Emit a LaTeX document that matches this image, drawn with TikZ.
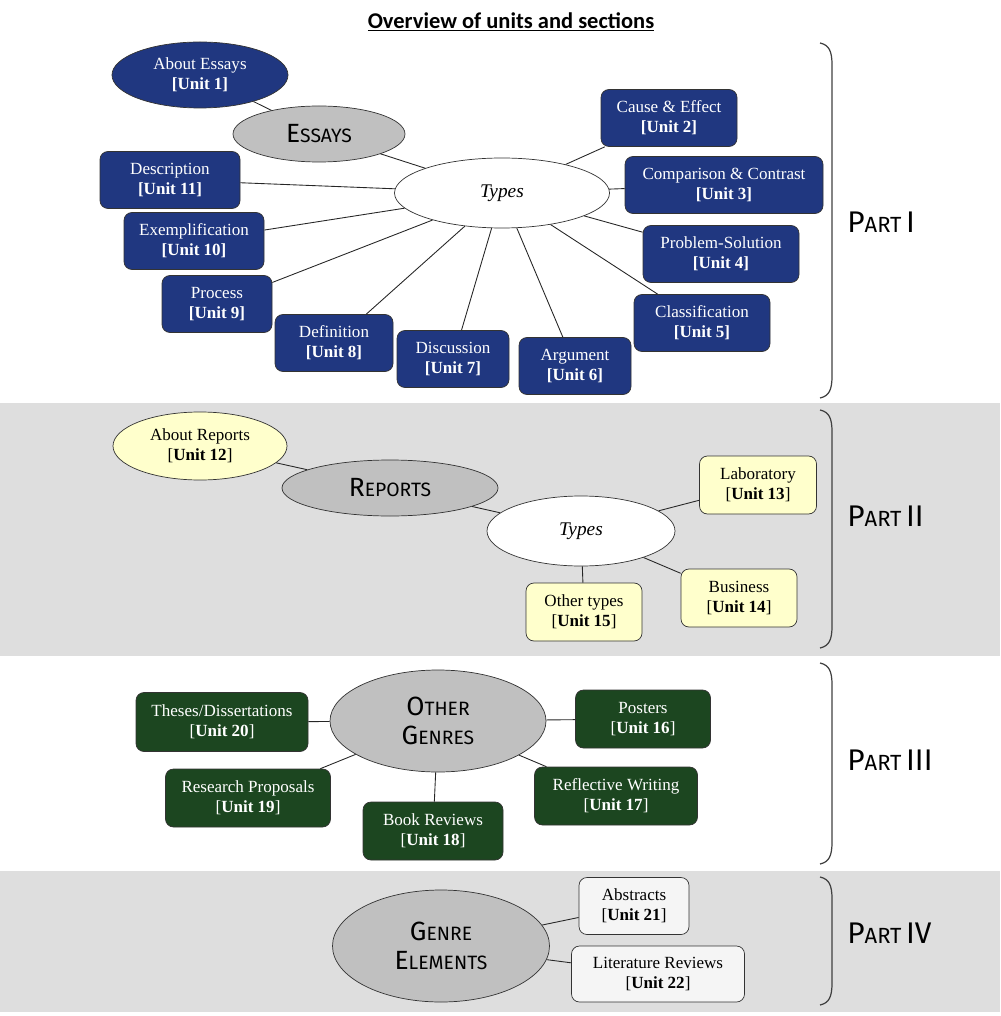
\documentclass[tikz,border=0pt]{standalone}
\usepackage{fontspec}
\setmainfont{Liberation Serif}
\newfontfamily\headfont{Fira Sans}
\newfontfamily\titlefont{Carlito}
\usetikzlibrary{shapes.geometric}

\definecolor{essayblue}{RGB}{32,55,128}
\definecolor{genregreen}{RGB}{28,70,32}
\definecolor{reportyellow}{RGB}{255,255,204}
\definecolor{bandgray}{RGB}{222,222,222}
\definecolor{hubgray}{RGB}{192,192,192}
\definecolor{elemgray}{RGB}{245,245,245}

% fake small caps for the hub headings and part labels
\newcommand{\hubsc}[2]{{\fontsize{15}{16.5}\selectfont #1}{\fontsize{11}{16.5}\selectfont #2}}
\newcommand{\partsc}[1]{{\fontsize{17}{20}\selectfont P}{\fontsize{12.5}{20}\selectfont ART}\ {\fontsize{17}{20}\selectfont #1}}

\tikzset{
  boxsize/.style 2 args={minimum width={#1*0.02cm}, minimum height={#2*0.02cm}},
  unitbox/.style={draw=black!80, rounded corners=1.6mm, align=center, inner sep=0pt,
    font=\fontsize{9.7}{11.5}\selectfont},
  bluebox/.style={unitbox, fill=essayblue, text=white},
  greenbox/.style={unitbox, fill=genregreen, text=white},
  yellowbox/.style={unitbox, fill=reportyellow},
  lightbox/.style={unitbox, fill=elemgray},
  unitell/.style={ellipse, draw=black!80, align=center, inner sep=0pt,
    font=\fontsize{9.7}{11.5}\selectfont},
  hubell/.style={ellipse, draw=black!80, fill=hubgray, align=center, inner sep=0pt,
    font=\headfont\fontsize{15}{16.5}\selectfont},
  typesell/.style={ellipse, draw=black!80, fill=white, inner sep=0pt,
    font=\fontsize{11}{13}\selectfont\itshape},
  link/.style={draw=black!85, line width=0.5pt},
  partbrace/.style={draw=black!75, line width=0.7pt},
  partlabel/.style={anchor=west, inner sep=0pt, font=\headfont}
}

\begin{document}
\begin{tikzpicture}[x=0.02cm, y=-0.02cm]
\useasboundingbox (0,0) rectangle (1000,1016);

% bands behind parts II and IV
\fill[bandgray] (0,403) rectangle (1000,656);
\fill[bandgray] (0,871) rectangle (1000,1012);

\node[font=\titlefont\bfseries\fontsize{12.8}{15}\selectfont] (title) at (511,22)
  {\underline{Overview of units and sections}};

% Part I
\node[unitell, fill=essayblue, text=white, boxsize={176}{66}] (aboutE) at (200,75)
  {About Essays\\\textbf{[Unit 1]}};
\node[hubell, boxsize={172}{56}] (essays) at (319,134) {\hubsc{E}{SSAYS}};
\node[typesell, boxsize={215}{70}] (typesE) at (502,193) {Types};

\node[bluebox, boxsize={136}{57}] (cause) at (669,118) {Cause \& Effect\\\textbf{[Unit 2]}};
\node[bluebox, boxsize={198}{57}] (compare) at (724,185) {Comparison \& Contrast\\\textbf{[Unit 3]}};
\node[bluebox, boxsize={156}{57}] (problem) at (721,254) {Problem-Solution\\\textbf{[Unit 4]}};
\node[bluebox, boxsize={136}{57}] (classif) at (702,323) {Classification\\\textbf{[Unit 5]}};
\node[bluebox, boxsize={112}{57}] (argument) at (575,366) {Argument\\\textbf{[Unit 6]}};
\node[bluebox, boxsize={112}{57}] (discuss) at (453,359) {Discussion\\\textbf{[Unit 7]}};
\node[bluebox, boxsize={118}{57}] (define) at (334,343) {Definition\\\textbf{[Unit 8]}};
\node[bluebox, boxsize={110}{57}] (process) at (217,304) {Process\\\textbf{[Unit 9]}};
\node[bluebox, boxsize={140}{57}] (exempl) at (194,241) {Exemplification\\\textbf{[Unit 10]}};
\node[bluebox, boxsize={140}{57}] (describe) at (170,180) {Description\\\textbf{[Unit 11]}};

\draw[link] (aboutE) -- (essays);
\draw[link] (essays) -- (typesE);
\foreach \n in {cause,compare,problem,classif,argument,discuss,define,process,exempl,describe}
  \draw[link] (typesE) -- (\n);

% Part II
\node[unitell, fill=reportyellow, boxsize={174}{68}] (aboutR) at (200,446)
  {About Reports\\{[}\textbf{Unit 12}{]}};
\node[hubell, boxsize={216}{56}] (reports) at (390,488) {\hubsc{R}{EPORTS}};
\node[typesell, boxsize={188}{70}] (typesR) at (581,531) {Types};

\node[yellowbox, boxsize={117}{58}] (lab) at (758,485) {Laboratory\\{[}\textbf{Unit 13}{]}};
\node[yellowbox, boxsize={116}{58}] (business) at (739,598) {Business\\{[}\textbf{Unit 14}{]}};
\node[yellowbox, boxsize={116}{58}] (othertypes) at (584,612) {Other types\\{[}\textbf{Unit 15}{]}};

\draw[link] (aboutR) -- (reports);
\draw[link] (reports) -- (typesR);
\foreach \n in {lab,business,othertypes}
  \draw[link] (typesR) -- (\n);

% Part III
\node[hubell, boxsize={216}{102}] (othergen) at (438,721)
  {\hubsc{O}{THER}\\\hubsc{G}{ENRES}};

\node[greenbox, boxsize={172}{59}] (theses) at (222,722) {Theses/Dissertations\\{[}\textbf{Unit 20}{]}};
\node[greenbox, boxsize={135}{58}] (posters) at (643,719) {Posters\\{[}\textbf{Unit 16}{]}};
\node[greenbox, boxsize={165}{58}] (research) at (248,798) {Research Proposals\\{[}\textbf{Unit 19}{]}};
\node[greenbox, boxsize={140}{58}] (bookrev) at (433,831) {Book Reviews\\{[}\textbf{Unit 18}{]}};
\node[greenbox, boxsize={163}{58}] (reflect) at (616,796) {Reflective Writing\\{[}\textbf{Unit 17}{]}};

\foreach \n in {theses,posters,research,bookrev,reflect}
  \draw[link] (othergen) -- (\n);

% Part IV
\node[hubell, boxsize={217}{112}] (genreel) at (441,946)
  {\hubsc{G}{ENRE}\\\hubsc{E}{LEMENTS}};
\node[lightbox, boxsize={110}{57}] (abstracts) at (634,906) {Abstracts\\{[}\textbf{Unit 21}{]}};
\node[lightbox, boxsize={173}{56}] (litrev) at (658,974) {Literature Reviews\\{[}\textbf{Unit 22}{]}};

\draw[link] (genreel) -- (abstracts);
\draw[link] (genreel) -- (litrev);

% brackets and part labels
\foreach \ya/\yb in {43/398, 410/648, 663/864, 877/1005}
  \draw[partbrace] (820,\ya) .. controls (829,{\ya+2}) and (832,{\ya+8}) .. (832,{\ya+22})
    -- (832,{\yb-22}) .. controls (832,{\yb-8}) and (829,{\yb-2}) .. (820,\yb);

\node[partlabel] (part1) at (847,222) {\partsc{I}};
\node[partlabel] (part2) at (847,516) {\partsc{II}};
\node[partlabel] (part3) at (847,760) {\partsc{III}};
\node[partlabel] (part4) at (847,933) {\partsc{IV}};
\end{tikzpicture}
\end{document}
